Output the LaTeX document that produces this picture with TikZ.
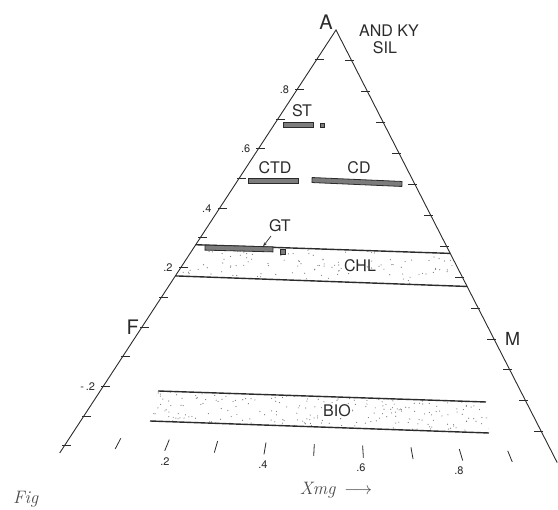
\documentclass[tikz,border=0pt]{standalone}
\usepackage{fontspec}
\setsansfont{TeX Gyre Heros}
\usetikzlibrary{
	calc,
	positioning,
	arrows.meta
}
\definecolor{inkcolor}{HTML}{2B2B2B}
\definecolor{dotcolor}{HTML}{7A7A7A}
\definecolor{barcolor}{HTML}{7C7C7C}
\tikzset{
	sideline/.style={
		draw=inkcolor,
		line width=0.9pt
	},
	bandline/.style={
		draw=inkcolor,
		line width=1.4pt
	},
	tickmark/.style={
		draw=inkcolor,
		line width=0.8pt
	},
	phasebar/.style={
		draw=inkcolor,
		fill=barcolor,
		line width=0.8pt,
		inner sep=0pt,
		minimum height=5pt
	},
	phaselabel/.style={
		font=\sffamily\fontsize{16}{18}\selectfont,
		text=inkcolor,
		inner sep=0pt
	},
	numlabel/.style={
		font=\sffamily\fontsize{11}{13}\selectfont,
		text=inkcolor,
		inner sep=0pt
	},
	cornerlabel/.style={
		font=\sffamily\fontsize{20}{22}\selectfont,
		text=inkcolor,
		inner sep=0pt
	},
	handlabel/.style={
		font=\rmfamily\itshape\fontsize{18}{20}\selectfont,
		text=inkcolor!85,
		inner sep=0pt
	},
	stipple/.style={
		fill=dotcolor
	},
	arrow/.style={
		-{Stealth[length=4pt,width=3pt]},
		draw=inkcolor,
		line width=0.7pt
	}
}

\begin{document}
\begin{tikzpicture}[x=1pt, y={(0pt,-1pt)}]
	\useasboundingbox (0,0) rectangle (558,510);
	
	% Corners
	\coordinate (A) at (336,30);
	\coordinate (F) at (142,327);
	\coordinate (M) at (494,339);
	\coordinate (lb) at ($(A)!1.424!(F)$);
	\coordinate (rb) at ($(A)!1.4!(M)$);
	
	% Triangle
	\draw[sideline] (lb) -- (A) -- (rb);
	
	% Side ticks
	\foreach \k in {1,...,14}
	\draw[tickmark] ($(A)!{\k/10}!(F)+(-2,0)$) -- ++(9,0);
	\foreach \k in {1,...,13}
	\draw[tickmark] ($(A)!{\k/10}!(M)+(2,0)$) -- ++(-9,0);
	
	% Side values
	\foreach \k/\lab in {2/.8, 4/.6, 6/.4, 8/.2, 12/-\,.2}
	\node[numlabel, anchor=east] (lv\k) at ($(A)!{\k/10}!(F)+(-8,0)$) {\lab};
	
	% Corner labels
	\node[cornerlabel, anchor=south east] (alab) at ($(A)+(-3,0)$) {A};
	\node[cornerlabel, anchor=east] (flab) at ($(F)+(-3,0)$) {F};
	\node[cornerlabel, anchor=west, font=\sffamily\fontsize{18}{20}\selectfont] (mlab) at ($(M)+(11,0)$) {M};
	\node[phaselabel] (andky) at (389,31) {AND KY};
	\node[phaselabel] (sil) at (385,48) {SIL};
	
	% CHL band
	\coordinate (chltl) at ($(A)!0.723!(F)$);
	\coordinate (chltr) at ($(A)!0.723!(M)$);
	\coordinate (chlbl) at ($(A)!0.828!(F)$);
	\coordinate (chlbr) at ($(A)!0.83!(M)$);
	\begin{scope}
		\clip (chltl) -- (chltr) -- (chlbr) -- (chlbl) -- cycle;
		\pgfmathsetseed{11}
		\foreach \i in {1,...,200}
		\fill[stipple] ({170+300*rnd},{240+50*rnd}) circle (0.6pt);
	\end{scope}
	\draw[bandline] (chltl) -- (chltr);
	\draw[bandline] (chlbl) -- (chlbr);
	\node[phaselabel] (chl) at (360,266) {CHL};
	
	% BIO band
	\coordinate (biotl) at (158,391);
	\coordinate (biotr) at (486,402);
	\coordinate (biobl) at (150,421);
	\coordinate (biobr) at (489,433);
	\begin{scope}
		\clip (biotl) -- (biotr) -- (biobr) -- (biobl) -- cycle;
		\pgfmathsetseed{5}
		\foreach \i in {1,...,360}
		\fill[stipple] ({148+345*rnd},{389+46*rnd}) circle (0.6pt);
	\end{scope}
	\draw[bandline] (biotl) -- (biotr);
	\draw[bandline] (biobl) -- (biobr);
	\node[phaselabel, fill=white, inner sep=1pt] (bio) at (337,411) {BIO};
	
	% Phase bars
	\node[phasebar, minimum width=30pt] (stbar) at (298,124.5) {};
	\node[phasebar, minimum width=4pt, minimum height=4pt] (stdot) at (322.5,125) {};
	\node[phaselabel] (st) at (302,111) {ST};
	
	\node[phasebar, minimum width=50pt] (ctdbar) at (273,180.5) {};
	\node[phaselabel] (ctd) at (275,168) {CTD};
	
	\node[phasebar, minimum width=90pt, rotate=-2.5] (cdbar) at (357,182) {};
	\node[phaselabel] (cd) at (359,168) {CD};
	
	\node[phasebar, minimum width=68pt, rotate=-1.5] (gtbar) at (239,248.5) {};
	\node[phasebar, minimum width=5pt] (gtdot) at (282.5,251.5) {};
	\node[phaselabel] (gt) at (280,226) {GT};
	\coordinate (gttail) at (271,236);
	\draw[arrow] (gttail) -- ($(gtbar.north)!0.7!(gtbar.north east)$);
	
	% Xmg ticks
	\foreach \k in {1,...,9} {
		\coordinate (t\k) at ({69+49*\k},{442+1.6*\k});
		\draw[tickmark] ($(t\k)!-6pt!(A)$) -- ($(t\k)!6pt!(A)$);
	}
	\foreach \k/\lab in {2/.2, 4/.4, 6/.6, 8/.8}
	\node[numlabel, anchor=north] (xv\k) at ($(t\k)+(-2,12)$) {\lab};
	
	% Axis note
	\node[handlabel] (xmg) at (336,490) {Xmg\enspace$\longrightarrow$};
	\node[handlabel, anchor=base west] (fig) at (13,504) {Fig};
	
\end{tikzpicture}
\end{document}
